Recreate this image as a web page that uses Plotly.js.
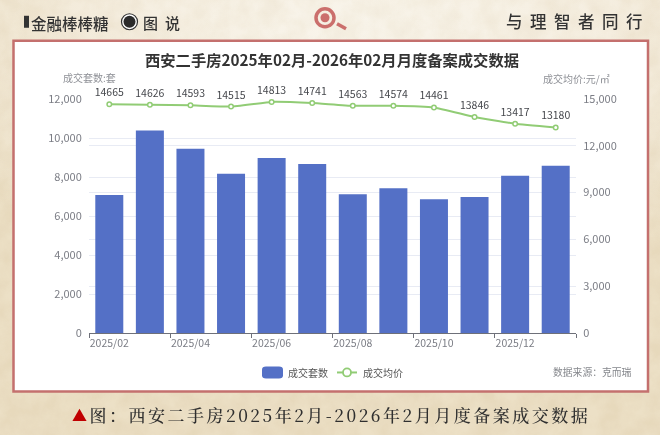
<!DOCTYPE html>
<html><head><meta charset="utf-8">
<script src="https://cdn.plot.ly/plotly-3.0.1.min.js"></script>
<style>
html,body{margin:0;padding:0;width:660px;height:435px;overflow:hidden;background:#f1e8d6;}
#bg{position:absolute;left:0;top:0;width:660px;height:435px;
background:radial-gradient(ellipse 75% 60% at 55% 6%,#f9f5ec 0%,#f5eee0 50%,rgba(236,224,198,1) 100%);}
#tex{position:absolute;left:0;top:0;width:660px;height:435px;opacity:.22;mix-blend-mode:multiply;}
#c{position:absolute;left:0;top:0;width:660px;height:435px;}
</style></head><body>
<div id="bg"></div>
<svg id="tex" width="660" height="435"><filter id="f"><feTurbulence type="fractalNoise" baseFrequency="0.05" numOctaves="4" seed="7"/><feColorMatrix values="0 0 0 0 .72  0 0 0 0 .62  0 0 0 0 .42  0 0 0 1.3 -.3"/></filter><rect width="660" height="435" filter="url(#f)"/></svg>
<div id="c"></div>
<script>
var months=['2025/02','2025/03','2025/04','2025/05','2025/06','2025/07','2025/08','2025/09','2025/10','2025/11','2025/12','2026/01'];
var deals=[7081,10391,9453,8172,8977,8670,7112,7420,6856,6979,8070,8582];
var prices=[14665,14626,14593,14515,14813,14741,14563,14574,14461,13846,13417,13180];
var titleText='西安二手房2025年02月-2026年02月月度备案成交数据';
var captionText='图\uFF1A西安二手房2025年2月-2026年2月月度备案成交数据';
var sourceText='数据来源\uFF1A克而瑞';
var cjk='"Noto Sans CJK SC","Noto Sans",sans-serif';
var grey='#7b7d85';
var T=99.3,B=333.5,L=89,R=576;
function px(x){return (x-L)/(R-L);}
function py(y){return (B-y)/(B-T);}
function note(x,y,text,size,color,anchor,weight){
  return {xref:'paper',yref:'paper',x:px(x),y:py(y),text:text,showarrow:false,borderpad:0,
    xanchor:anchor||'left',yanchor:'middle',font:{family:cjk,size:size,color:color,weight:weight||400}};
}
function shape(t,x0,x1,y0,y1,fill,lc,lw,layer){
  return {type:t,xref:'paper',yref:'paper',x0:px(x0),x1:px(x1),y0:py(y0),y1:py(y1),fillcolor:fill,line:{color:lc,width:lw},layer:layer||'below'};
}
var traces=[
 {type:'bar',name:'成交套数',x:months,y:deals,marker:{color:'#5470c6'},width:0.69,yaxis:'y',hoverinfo:'skip'},
 {type:'scatter',mode:'lines+markers+text',name:'成交均价',x:months,y:prices,yaxis:'y2',
  line:{color:'#91cc75',width:2,shape:'spline',smoothing:0.3},
  marker:{symbol:'circle',size:4.5,color:'#fff',line:{color:'#91cc75',width:1.5}},
  text:prices.map(String),textposition:'top center',textfont:{family:cjk,size:10.5,color:'#46484d'},cliponaxis:false,hoverinfo:'skip'}
];
var legendSwatch={type:'path',xref:'paper',yref:'paper',layer:'above',fillcolor:'#5470c6',line:{width:0},
  path:'M '+px(266)+' '+py(367)+' L '+px(279)+' '+py(367)+' Q '+px(283)+' '+py(367)+' '+px(283)+' '+py(370)+
       ' L '+px(283)+' '+py(376)+' Q '+px(283)+' '+py(379)+' '+px(279)+' '+py(379)+
       ' L '+px(266)+' '+py(379)+' Q '+px(262)+' '+py(379)+' '+px(262)+' '+py(376)+
       ' L '+px(262)+' '+py(370)+' Q '+px(262)+' '+py(367)+' '+px(266)+' '+py(367)+' Z'};
var layout={
 width:660,height:435,margin:{l:L,r:660-R,t:T,b:435-B},
 paper_bgcolor:'rgba(0,0,0,0)',plot_bgcolor:'rgba(0,0,0,0)',showlegend:false,
 xaxis:{type:'category',categoryorder:'array',categoryarray:months,range:[-0.5,11.5],tickson:'boundaries',dtick:2,ticks:'outside',ticklen:4,tickcolor:'#6e7079',
   showline:true,linecolor:'#6e7079',linewidth:1,showgrid:false,tickfont:{family:cjk,size:10.5,color:grey},tickangle:0},
 yaxis:{range:[0,12000],dtick:2000,tickformat:',d',showgrid:true,gridcolor:'#e8ebf4',gridwidth:1,zeroline:false,
   tickfont:{family:cjk,size:11,color:grey},ticks:'outside',ticklen:4,tickcolor:'rgba(0,0,0,0)',showline:false},
 yaxis2:{range:[0,15000],dtick:3000,tickformat:',d',overlaying:'y',side:'right',showgrid:true,gridcolor:'#e8ebf4',gridwidth:1,zeroline:false,
   tickfont:{family:cjk,size:11,color:grey},ticks:'outside',ticklen:4,tickcolor:'rgba(0,0,0,0)',showline:false},
 shapes:[
  shape('rect',13.5,648,41,392,'#fff','#c4706e',2.5),
  shape('circle',316,334,9,27,'rgba(0,0,0,0)','#cb6f6c',3.5),
  shape('circle',320.5,329.5,13.5,22.5,'#cb6f6c','#cb6f6c',0),
  shape('line',337,346,24,29,'#cb6f6c','#cb6f6c',3.5),
  shape('rect',24,29,16,28,'#333','#333',0),
  shape('circle',121.5,137.5,14,30,'#fff','#333',1.2),
  shape('circle',123.5,135.5,16,28,'#2b2b2b','#2b2b2b',0),
  legendSwatch,
  shape('line',337,357,373,373,'#91cc75','#91cc75',2,'above'),
  shape('circle',343,351,369,377,'#fff','#91cc75',1.8,'above')
 ],
 annotations:[
  note(332,59,titleText,15.3,'#333','center',700),
  note(62,77.5,'成交套数:套',10,'#8f9197'),
  note(542,79,'成交均价:元/㎡',10,'#8f9197'),
  note(287,373,'成交套数',10,'#555'),
  note(362,373,'成交均价',10,'#555'),
  note(552,373,sourceText,9.8,'#85878c'),
  note(30,23,'金融棒棒糖',15.5,'#333','left',500),
  note(142,23,'图',15,'#333','left',500),
  note(164,23,'说',15,'#333','left',500),
  note(505,21,'与',16.5,'#333','left',500),
  note(529,21,'理',16.5,'#333','left',500),
  note(553,21,'智',16.5,'#333','left',500),
  note(577,21,'者',16.5,'#333','left',500),
  note(601,21,'同',16.5,'#333','left',500),
  note(625,21,'行',16.5,'#333','left',500),
  note(71,415,'▲',15,'#c00000'),
  {xref:'paper',yref:'paper',x:px(339.5),y:py(415),text:captionText,showarrow:false,xanchor:'center',yanchor:'middle',
   font:{family:'"Noto Serif CJK SC","Noto Sans CJK SC",serif',size:17,color:'#2f2f2f',weight:500}}
 ]
};
Plotly.newPlot('c',traces,layout,{staticPlot:true,displayModeBar:false}).then(function(){
  document.querySelectorAll('.annotation-text').forEach(function(t){
    if(t.textContent===captionText) t.style.letterSpacing='2.5px';
  });
  document.querySelectorAll('.textpoint text').forEach(function(t){
    t.setAttribute('y',parseFloat(t.getAttribute('y'))-1.5);
  });
});
</script></body></html>
